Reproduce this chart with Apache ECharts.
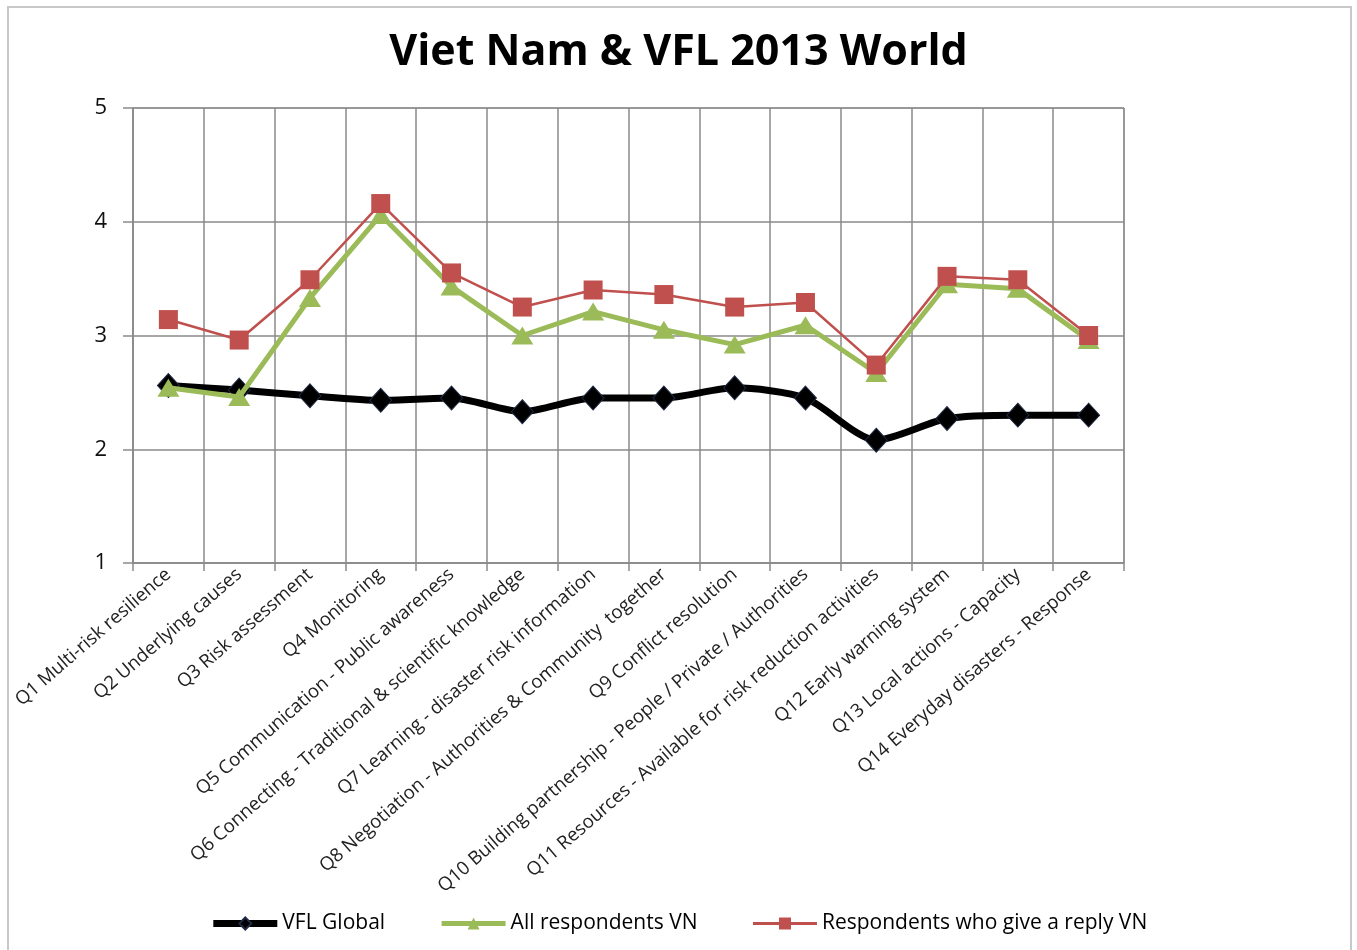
<!DOCTYPE html>
<html>
<head>
<meta charset="utf-8">
<script src="https://cdn.jsdelivr.net/npm/echarts@6/dist/echarts.min.js"></script>
<style>
  html, body { margin: 0; padding: 0; background: #fff; overflow: hidden; }
  #frame { position: absolute; left: 7px; top: 6px; width: 1345px; height: 960px; border: 2px solid #c8c8c8; box-sizing: border-box; }
  #chart { position: absolute; left: 0; top: 0; width: 1357px; height: 950px; }
</style>
</head>
<body>
<div id="frame"></div>
<div id="chart"></div>
<script>
const categories = [
  'Q1 Multi-risk resilience',
  'Q2 Underlying causes',
  'Q3 Risk assessment',
  'Q4 Monitoring',
  'Q5 Communication - Public awareness',
  'Q6 Connecting - Traditional & scientific knowledge',
  'Q7 Learning - disaster risk information',
  'Q8 Negotiation - Authorities & Community  together',
  'Q9 Conflict resolution',
  'Q10 Building partnership - People / Private / Authorities',
  'Q11 Resources - Available for risk reduction activities',
  'Q12 Early warning system',
  'Q13 Local actions - Capacity',
  'Q14 Everyday disasters - Response'
];
const vflGlobal = [2.56, 2.52, 2.47, 2.43, 2.45, 2.33, 2.45, 2.45, 2.54, 2.45, 2.08, 2.27, 2.30, 2.30];
const allRespondentsVN = [2.54, 2.46, 3.33, 4.06, 3.43, 3.00, 3.21, 3.05, 2.92, 3.09, 2.67, 3.45, 3.41, 2.96];
const replyRespondentsVN = [3.14, 2.96, 3.49, 4.16, 3.55, 3.25, 3.40, 3.36, 3.25, 3.29, 2.74, 3.52, 3.49, 3.00];
const yTicks = { min: 1, max: 5, interval: 1 };

const chart = echarts.init(document.getElementById('chart'), null, { renderer: 'canvas' });
const font = '"Open Sans", Lato, sans-serif';
chart.setOption({
  backgroundColor: 'transparent',
  animation: false,
  title: {
    text: 'Viet Nam & VFL 2013 World',
    left: 'center',
    top: 26,
    textStyle: { fontFamily: font, fontSize: 43, fontWeight: 'bold', color: '#000' }
  },
  legend: {
    bottom: 11,
    left: 'center',
    itemWidth: 64,
    itemHeight: 15,
    itemGap: 54,
    textStyle: { fontFamily: font, fontSize: 21, color: '#000' },
    data: [
      { name: 'VFL Global', lineStyle: { width: 7 } },
      { name: 'All respondents VN', lineStyle: { width: 5 } },
      { name: 'Respondents who give a reply VN', lineStyle: { width: 3 } }
    ]
  },
  grid: { left: 133, right: 233, top: 108, bottom: 387, containLabel: false, show: true, borderColor: '#8a8a8a', borderWidth: 1 },
  xAxis: {
    type: 'category',
    data: categories,
    boundaryGap: true,
    axisLine: { show: true, lineStyle: { color: '#8a8a8a', width: 1.5 } },
    axisTick: { show: true, alignWithLabel: false, length: 8, lineStyle: { color: '#8a8a8a', width: 1.5 } },
    splitLine: { show: true, lineStyle: { color: '#8a8a8a', width: 1.5 } },
    axisLabel: { interval: 0, rotate: 41, margin: 9, fontFamily: font, fontSize: 18.7, color: '#222' }
  },
  yAxis: {
    type: 'value',
    min: yTicks.min,
    max: yTicks.max,
    interval: yTicks.interval,
    axisLine: { show: true, lineStyle: { color: '#8a8a8a', width: 1.5 } },
    axisTick: { show: true, length: 10, lineStyle: { color: '#8a8a8a', width: 1.5 } },
    splitLine: { show: true, lineStyle: { color: '#8a8a8a', width: 1.5 } },
    axisLabel: { margin: 26, fontFamily: font, fontSize: 22, color: '#111' }
  },
  series: [
    {
      name: 'VFL Global',
      type: 'line',
      data: vflGlobal,
      smooth: 0.25,
      symbol: 'diamond',
      symbolSize: [22, 24],
      lineStyle: { color: '#000', width: 7 },
      itemStyle: { color: '#000', borderColor: '#1f2a44', borderWidth: 1 },
      z: 3
    },
    {
      name: 'All respondents VN',
      type: 'line',
      data: allRespondentsVN,
      symbol: 'triangle',
      symbolSize: [22, 18],
      lineStyle: { color: '#9bbb59', width: 5 },
      itemStyle: { color: '#9bbb59' },
      z: 4
    },
    {
      name: 'Respondents who give a reply VN',
      type: 'line',
      data: replyRespondentsVN,
      symbol: 'rect',
      symbolSize: 19,
      lineStyle: { color: '#c0504d', width: 2.5 },
      itemStyle: { color: '#c0504d' },
      z: 5
    }
  ]
});
</script>
</body>
</html>
